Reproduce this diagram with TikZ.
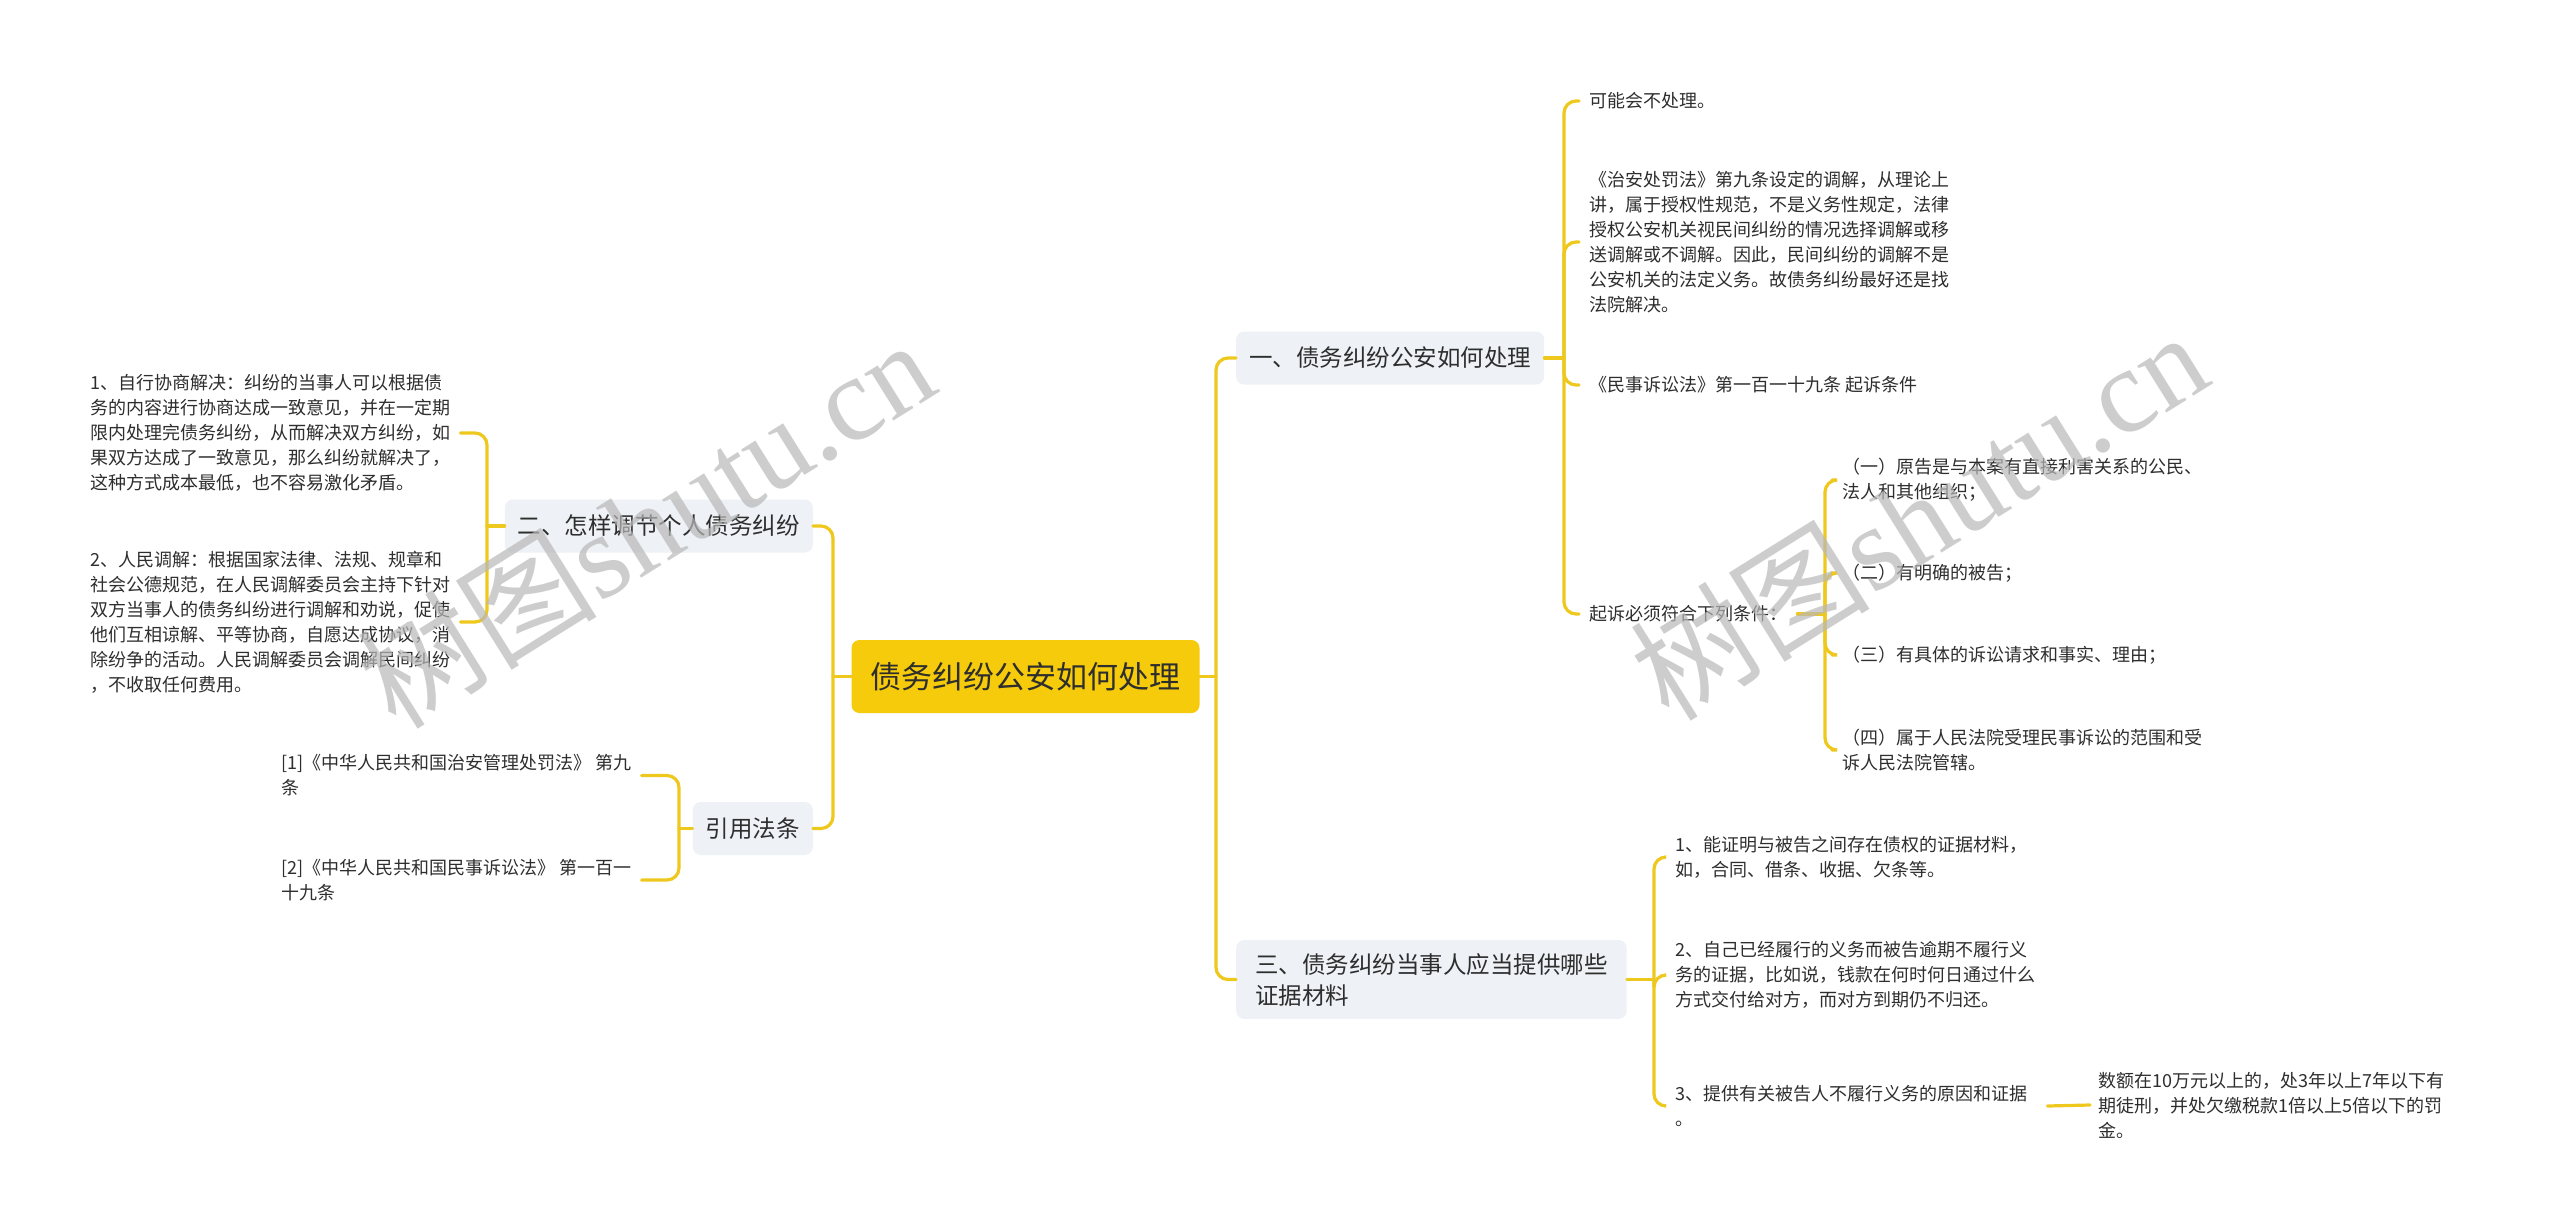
\documentclass[tikz,border=0pt]{standalone}
\usepackage{fontspec}
\setmainfont{Noto Sans CJK SC}
\newfontfamily\wmlatin{Liberation Serif}
\newfontfamily\wmcjk{Noto Sans CJK SC}
\definecolor{linegold}{HTML}{EFC81E}
\definecolor{rootgold}{HTML}{F5CB0B}
\definecolor{boxgray}{HTML}{EEF1F5}
\definecolor{txtdark}{HTML}{2E2E2E}
\definecolor{wmgray}{HTML}{B8B8B8}
\tikzset{
  conn/.style={draw=linegold, line width=3.2pt, line cap=round},
  elbow/.style={conn, rounded corners=12pt},
  rootbox/.style={fill=rootgold, rounded corners=8pt, inner xsep=19pt, minimum height=73pt,
    font=\fontsize{31}{38}\selectfont, text=txtdark},
  branchbox/.style={fill=boxgray, rounded corners=8pt, inner xsep=13pt, minimum height=53pt,
    font=\fontsize{23.5}{31}\selectfont, text=txtdark},
  leaf/.style={inner xsep=10pt, inner ysep=2pt, align=left, anchor=west,
    font=\fontsize{18}{25}\selectfont, text=txtdark},
  wmark/.style={rotate=32, text=wmgray, opacity=0.7, font=\fontsize{120}{130}\selectfont},
}
\begin{document}
\begin{tikzpicture}[x=1pt,y=-1pt]
\fill[white] (0,0) rectangle (2560,1229);
\useasboundingbox (0,0) rectangle (2560,1229);

% root and branches
\node[rootbox] (root) at (1025.5,676.5) {债务纠纷公安如何处理};
\node[branchbox, anchor=west] (b1) at (1236,358) {一、债务纠纷公安如何处理};
\node[branchbox, anchor=west, align=left, inner xsep=19pt, inner ysep=13pt] (b3) at (1236,979.5)
  {三、债务纠纷当事人应当提供哪些\\证据材料};
\node[branchbox, anchor=east] (b2) at (813,526) {二、怎样调节个人债务纠纷};
\node[branchbox, anchor=east] (b4) at (813,828.5) {引用法条};

% trunk coordinates
\coordinate (rt) at (1216,676.5);
\coordinate (lt) at (833,676.5);
\coordinate (t1) at (1564,358);
\coordinate (t4) at (1825,614);
\coordinate (t3) at (1654,979.5);
\coordinate (t2) at (487,526);
\coordinate (t5) at (679,828.5);

% right branch 1 leaves
\node[leaf] (r1) at (1579,101) {可能会不处理。};
\node[leaf] (r2) at (1579,242) {《治安处罚法》第九条设定的调解，从理论上\\讲，属于授权性规范，不是义务性规定，法律\\授权公安机关视民间纠纷的情况选择调解或移\\送调解或不调解。因此，民间纠纷的调解不是\\公安机关的法定义务。故债务纠纷最好还是找\\法院解决。};
\node[leaf] (r3) at (1579,385) {《民事诉讼法》第一百一十九条 起诉条件};
\node[leaf] (r4) at (1579,614) {起诉必须符合下列条件：};
\node[leaf] (q1) at (1832,480) {（一）原告是与本案有直接利害关系的公民、\\法人和其他组织；};
\node[leaf] (q2) at (1832,573) {（二）有明确的被告；};
\node[leaf] (q3) at (1832,655) {（三）有具体的诉讼请求和事实、理由；};
\node[leaf] (q4) at (1832,750) {（四）属于人民法院受理民事诉讼的范围和受\\诉人民法院管辖。};

% right branch 3 leaves
\node[leaf] (s1) at (1665,857) {1、能证明与被告之间存在债权的证据材料，\\如，合同、借条、收据、欠条等。};
\node[leaf] (s2) at (1665,975) {2、自己已经履行的义务而被告逾期不履行义\\务的证据，比如说，钱款在何时何日通过什么\\方式交付给对方，而对方到期仍不归还。};
\node[leaf] (s3) at (1665,1106) {3、提供有关被告人不履行义务的原因和证据\\。};
\node[leaf] (s3c) at (2088,1105) {数额在10万元以上的，处3年以上7年以下有\\期徒刑，并处欠缴税款1倍以上5倍以下的罚\\金。};

% left leaves
\node[leaf] (p1) at (80,433) {1、自行协商解决：纠纷的当事人可以根据债\\务的内容进行协商达成一致意见，并在一定期\\限内处理完债务纠纷，从而解决双方纠纷，如\\果双方达成了一致意见，那么纠纷就解决了，\\这种方式成本最低，也不容易激化矛盾。};
\node[leaf] (p2) at (80,622) {2、人民调解：根据国家法律、法规、规章和\\社会公德规范，在人民调解委员会主持下针对\\双方当事人的债务纠纷进行调解和劝说，促使\\他们互相谅解、平等协商，自愿达成协议，消\\除纷争的活动。人民调解委员会调解民间纠纷\\，不收取任何费用。};
\node[leaf] (c1) at (271,775.5) {[1]《中华人民共和国治安管理处罚法》 第九\\条};
\node[leaf] (c2) at (271,880) {[2]《中华人民共和国民事诉讼法》 第一百一\\十九条};

% connectors
\draw[conn] (root.east) -- (rt);
\draw[elbow] (rt) |- (b1.west);
\draw[elbow] (rt) |- (b3.west);
\draw[conn] (root.west) -- (lt);
\draw[elbow] (lt) |- (b2.east);
\draw[elbow] (lt) |- (b4.east);

\draw[conn] (b1.east) -- (t1);
\draw[elbow] (t1) |- (r1.west);
\draw[elbow] (t1) |- (r2.west);
\draw[elbow] (t1) |- (r3.west);
\draw[elbow] (t1) |- (r4.west);

\draw[conn] (r4.east) -- (t4);
\draw[elbow] (t4) |- (q1.west);
\draw[elbow] (t4) |- (q2.west);
\draw[elbow] (t4) |- (q3.west);
\draw[elbow] (t4) |- (q4.west);

\draw[conn] (b3.east) -- (t3);
\draw[elbow] (t3) |- (s1.west);
\draw[elbow] (t3) |- (s2.west);
\draw[elbow] (t3) |- (s3.west);
\draw[conn] ([xshift=10pt]s3.east) -- ([xshift=2pt]s3c.west);

\draw[conn] (b2.west) -- (t2);
\draw[elbow] (t2) |- (p1.east);
\draw[elbow] (t2) |- (p2.east);
\draw[conn] (b4.west) -- (t5);
\draw[elbow] (t5) |- (c1.east);
\draw[elbow] (t5) |- (c2.east);

% watermarks
\node[wmark] (wm1) at (645,522) {{\wmcjk 树图}{\wmlatin shutu.cn}};
\node[wmark] (wm2) at (1918,514) {{\wmcjk 树图}{\wmlatin shutu.cn}};
\end{tikzpicture}
\end{document}
